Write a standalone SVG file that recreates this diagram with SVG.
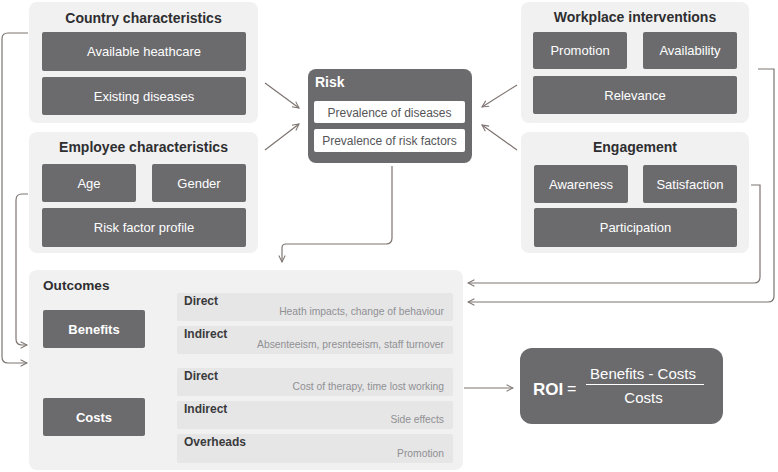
<svg xmlns="http://www.w3.org/2000/svg" width="778" height="472" viewBox="0 0 778 472">
<defs>
<marker id="arr" viewBox="0 0 10 10" refX="9" refY="5" markerWidth="8" markerHeight="8" markerUnits="userSpaceOnUse" orient="auto">
<path d="M1,1 L9,5 L1,9" fill="none" stroke="#7d7470" stroke-width="1.3"/>
</marker>
<style>
.panel{fill:#f1f1f2}
.dark{fill:#6b6b6e}
.sub{fill:#e6e6e7}
.title{font-family:"Liberation Sans",Arial,sans-serif;font-size:14px;font-weight:bold;fill:#2e2e30;text-anchor:middle}
.lbl{font-family:"Liberation Sans",Arial,sans-serif;font-size:13px;fill:#ffffff;text-anchor:middle}
.blbl{font-family:"Liberation Sans",Arial,sans-serif;font-size:13px;font-weight:bold;fill:#ffffff;text-anchor:middle}
.rlbl{font-family:"Liberation Sans",Arial,sans-serif;font-size:12px;fill:#555558;text-anchor:middle}
.sh{font-family:"Liberation Sans",Arial,sans-serif;font-size:12px;font-weight:bold;fill:#3a3a3c}
.sd{font-family:"Liberation Sans",Arial,sans-serif;font-size:10.3px;fill:#909093;text-anchor:end}
.con{fill:none;stroke:#7d7470;stroke-width:1.2}
</style>
</defs>
<rect width="778" height="472" fill="#ffffff"/>

<g id="country">
<rect class="panel" x="29" y="2" width="229" height="121" rx="8"/>
<text class="title" x="143.5" y="23">Country characteristics</text>
<rect class="dark" x="42" y="32" width="204" height="39" rx="2"/>
<text class="lbl" x="144" y="56">Available heathcare</text>
<rect class="dark" x="42" y="77" width="204" height="38" rx="2"/>
<text class="lbl" x="144" y="100.5">Existing diseases</text>
</g>

<g id="employee">
<rect class="panel" x="29" y="132" width="229" height="121" rx="8"/>
<text class="title" x="143.5" y="152">Employee characteristics</text>
<rect class="dark" x="42" y="164" width="94" height="38" rx="2"/>
<text class="lbl" x="89" y="188">Age</text>
<rect class="dark" x="152" y="164" width="94" height="38" rx="2"/>
<text class="lbl" x="199" y="188">Gender</text>
<rect class="dark" x="42" y="208" width="204" height="39" rx="2"/>
<text class="lbl" x="144" y="232">Risk factor profile</text>
</g>

<g id="workplace">
<rect class="panel" x="521" y="2" width="228" height="121" rx="8"/>
<text class="title" x="635" y="22">Workplace interventions</text>
<rect class="dark" x="533" y="32" width="94" height="37" rx="2"/>
<text class="lbl" x="580" y="55">Promotion</text>
<rect class="dark" x="643" y="32" width="94" height="37" rx="2"/>
<text class="lbl" x="690" y="55">Availability</text>
<rect class="dark" x="533" y="76" width="204" height="38" rx="2"/>
<text class="lbl" x="635" y="99.5">Relevance</text>
</g>

<g id="engagement">
<rect class="panel" x="521" y="132" width="228" height="121" rx="8"/>
<text class="title" x="635" y="152">Engagement</text>
<rect class="dark" x="534" y="165" width="94" height="38" rx="2"/>
<text class="lbl" x="581" y="188.5">Awareness</text>
<rect class="dark" x="643" y="165" width="94" height="38" rx="2"/>
<text class="lbl" x="690" y="188.5">Satisfaction</text>
<rect class="dark" x="534" y="208" width="203" height="39" rx="2"/>
<text class="lbl" x="635.5" y="232">Participation</text>
</g>

<g id="risk">
<rect class="dark" x="308" y="69" width="164" height="94" rx="8"/>
<text x="315" y="87" font-family="Liberation Sans, Arial, sans-serif" font-size="14" font-weight="bold" fill="#ffffff">Risk</text>
<rect x="314" y="101" width="151" height="22" rx="2" fill="#ffffff"/>
<text class="rlbl" x="389.5" y="116.5">Prevalence of diseases</text>
<rect x="314" y="129" width="151" height="23" rx="2" fill="#ffffff"/>
<text class="rlbl" x="389.5" y="145">Prevalence of risk factors</text>
</g>

<g id="outcomes">
<rect class="panel" x="29" y="270" width="434" height="200" rx="8"/>
<text x="43" y="290" font-family="Liberation Sans, Arial, sans-serif" font-size="13.6" font-weight="bold" fill="#2e2e30">Outcomes</text>
<rect class="dark" x="43" y="310" width="102" height="38" rx="2"/>
<text class="blbl" x="94" y="333.5">Benefits</text>
<rect class="dark" x="43" y="398" width="102" height="38" rx="2"/>
<text class="blbl" x="94" y="421.5">Costs</text>
<rect class="sub" x="177" y="293" width="276" height="28" rx="2"/>
<text class="sh" x="184" y="305">Direct</text>
<text class="sd" x="444" y="315">Heath impacts, change of behaviour</text>
<rect class="sub" x="177" y="326" width="276" height="28" rx="2"/>
<text class="sh" x="184" y="338">Indirect</text>
<text class="sd" x="444" y="348">Absenteeism, presnteeism, staff turnover</text>
<rect class="sub" x="177" y="368" width="276" height="28" rx="2"/>
<text class="sh" x="184" y="380">Direct</text>
<text class="sd" x="444" y="390">Cost of therapy, time lost working</text>
<rect class="sub" x="177" y="401" width="276" height="28" rx="2"/>
<text class="sh" x="184" y="413">Indirect</text>
<text class="sd" x="444" y="423">Side effects</text>
<rect class="sub" x="177" y="434" width="276" height="29" rx="2"/>
<text class="sh" x="184" y="446">Overheads</text>
<text class="sd" x="444" y="457">Promotion</text>
</g>

<g id="roi">
<rect class="dark" x="520" y="348" width="203" height="76" rx="12"/>
<text x="533" y="395" font-family="Liberation Sans, Arial, sans-serif" font-size="17" font-weight="bold" fill="#ffffff">ROI</text>
<text x="567" y="394" font-family="Liberation Sans, Arial, sans-serif" font-size="16" fill="#ffffff">=</text>
<text x="643" y="379" font-family="Liberation Sans, Arial, sans-serif" font-size="15" fill="#ffffff" text-anchor="middle">Benefits - Costs</text>
<line x1="586" y1="384.5" x2="704" y2="384.5" stroke="#ffffff" stroke-width="1"/>
<text x="643.5" y="403" font-family="Liberation Sans, Arial, sans-serif" font-size="15" fill="#ffffff" text-anchor="middle">Costs</text>
</g>

<g id="connectors">
<path class="con" d="M28,33 H8 Q2,33 2,39 V357 Q2,363 8,363 H27" marker-end="url(#arr)"/>
<path class="con" d="M28,194 H22 Q16,194 16,200 V339 Q16,345 22,345 H27" marker-end="url(#arr)"/>
<path class="con" d="M392,166 V238 Q392,244 386,244 H286 Q282,244 282,248 V262" marker-end="url(#arr)"/>
<path class="con" d="M758,69 H774 V296 Q774,302 768,302 H468" marker-end="url(#arr)"/>
<path class="con" d="M751,185 H760 V277 Q760,283 754,283 H468" marker-end="url(#arr)"/>
<path class="con" d="M464,388 H513" marker-end="url(#arr)"/>
<path class="con" d="M265,83 L299,108" marker-end="url(#arr)"/>
<path class="con" d="M265,150 L299,124" marker-end="url(#arr)"/>
<path class="con" d="M517,85 L482,107" marker-end="url(#arr)"/>
<path class="con" d="M517,150 L482,125" marker-end="url(#arr)"/>
</g>
</svg>
